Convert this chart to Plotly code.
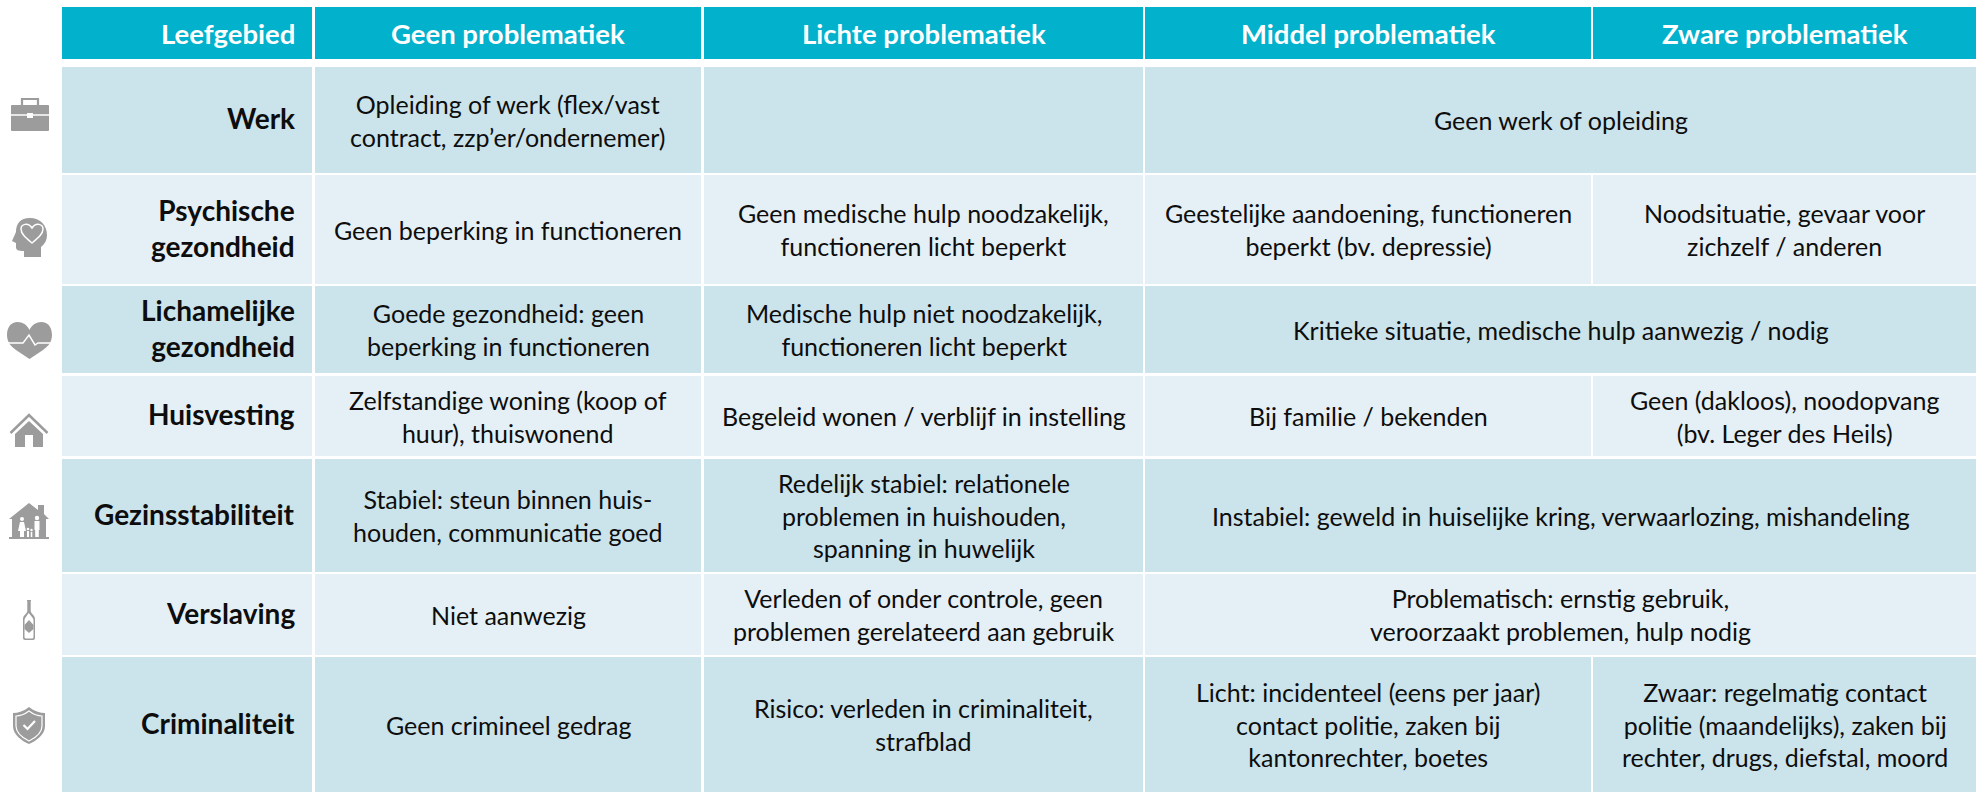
import plotly.graph_objects as go

# ---------- data ----------
headers = ["Leefgebied", "Geen problematiek", "Lichte problematiek", "Middel problematiek", "Zware problematiek"]
life_areas = ["Werk", "Psychische<br>gezondheid", "Lichamelijke<br>gezondheid", "Huisvesting",
              "Gezinsstabiliteit", "Verslaving", "Criminaliteit"]
geen = ["Opleiding of werk (flex/vast<br>contract, zzp’er/ondernemer)",
        "Geen beperking in functioneren",
        "Goede gezondheid: geen<br>beperking in functioneren",
        "Zelfstandige woning (koop of<br>huur), thuiswonend",
        "Stabiel: steun binnen huis-<br>houden, communicatie goed",
        "Niet aanwezig",
        "Geen crimineel gedrag"]
lichte = ["",
          "Geen medische hulp noodzakelijk,<br>functioneren licht beperkt",
          "Medische hulp niet noodzakelijk,<br>functioneren licht beperkt",
          "Begeleid wonen / verblijf in instelling",
          "Redelijk stabiel: relationele<br>problemen in huishouden,<br>spanning in huwelijk",
          "Verleden of onder controle, geen<br>problemen gerelateerd aan gebruik",
          "Risico: verleden in criminaliteit,<br>strafblad"]
# None in "zware" means the "middel" cell spans both columns
middel = ["Geen werk of opleiding",
          "Geestelijke aandoening, functioneren<br>beperkt (bv. depressie)",
          "Kritieke situatie, medische hulp aanwezig / nodig",
          "Bij familie / bekenden",
          "Instabiel: geweld in huiselijke kring, verwaarlozing, mishandeling",
          "Problematisch: ernstig gebruik,<br>veroorzaakt problemen, hulp nodig",
          "Licht: incidenteel (eens per jaar)<br>contact politie, zaken bij<br>kantonrechter, boetes"]
zware = [None,
         "Noodsituatie, gevaar voor<br>zichzelf / anderen",
         None,
         "Geen (dakloos), noodopvang<br>(bv. Leger des Heils)",
         None,
         None,
         "Zwaar: regelmatig contact<br>politie (maandelijks), zaken bij<br>rechter, drugs, diefstal, moord"]

# ---------- layout geometry (pixels of the page) ----------
col_l = [62, 315, 704, 1145, 1593]
col_r = [312, 701, 1143, 1591, 1976]
head_y = (7, 59)
row_t = [67, 175, 286, 376, 459, 574, 657]
row_b = [173, 284, 373, 456, 572, 655, 792]

HEAD = "#02B1CC"
DARK = "#CBE3EB"
LIGHT = "#E5F0F6"
INK = "#0D0D0D"
GRAY = "#9C9C9C"
FONT = "Lato"
BODY = 25
BOLD = 28
HEAD_SIZE = 27.5
LABEL_X = 296.5

fig = go.Figure()


def add_cells(cells, color):
    fig.add_trace(go.Bar(
        orientation="h",
        y=[(t + b) / 2 for _, _, t, b in cells],
        width=[b - t for _, _, t, b in cells],
        base=[l for l, _, _, _ in cells],
        x=[r - l for l, r, _, _ in cells],
        marker=dict(color=color, line=dict(width=0)),
        hoverinfo="skip", showlegend=False))


def label(x, y, text, size=BODY, color=INK, bold=False, xanchor="center"):
    fig.add_annotation(x=x, y=y, xref="x", yref="y", text=f"<b>{text}</b>" if bold else text,
                       showarrow=False, xanchor=xanchor, yanchor="middle", align=xanchor,
                       font=dict(family=FONT, size=size, color=color))


add_cells([(col_l[i], col_r[i], *head_y) for i in range(5)], HEAD)
for i, h in enumerate(headers):
    cx = LABEL_X if i == 0 else (col_l[i] + col_r[i]) / 2
    label(cx, 33.5, h, HEAD_SIZE, "#FFFFFF", True, "right" if i == 0 else "center")

for color, rows in ((DARK, range(0, 7, 2)), (LIGHT, range(1, 7, 2))):
    cells = []
    for r in rows:
        t, b = row_t[r], row_b[r]
        cells += [(col_l[i], col_r[i], t, b) for i in range(3)]
        cells.append((col_l[3], col_r[3] if zware[r] is not None else col_r[4], t, b))
        if zware[r] is not None:
            cells.append((col_l[4], col_r[4], t, b))
    add_cells(cells, color)

for r in range(7):
    cy = (row_t[r] + row_b[r]) / 2
    label(LABEL_X, cy - 2, life_areas[r], BOLD, INK, True, "right")
    label((col_l[1] + col_r[1]) / 2, cy, geen[r])
    label((col_l[2] + col_r[2]) / 2, cy, lichte[r])
    if zware[r] is None:
        label((col_l[3] + col_r[4]) / 2, cy, middel[r])
    else:
        label((col_l[3] + col_r[3]) / 2, cy, middel[r])
        label((col_l[4] + col_r[4]) / 2, cy, zware[r])


# ---------- icons ----------
def fill(path, color=GRAY):
    fig.add_shape(type="path", path=path, fillcolor=color, line=dict(width=0), layer="above")


def stroke(path, color="#FFFFFF", w=1.5):
    fig.add_shape(type="path", path=path, line=dict(color=color, width=w), layer="above")


def dot(x, y, rad, color="#FFFFFF"):
    fig.add_shape(type="circle", x0=x - rad, x1=x + rad, y0=y - rad, y1=y + rad,
                  fillcolor=color, line=dict(width=0), layer="above")


# briefcase
stroke("M22 105 V99 H38 V105", GRAY, 2.2)
fill("M12 105 H48 Q49 105 49 106 V130 Q49 131 48 131 H12 Q11 131 11 130 V106 Q11 105 12 105 Z")
stroke("M11 115 H49", "#FFFFFF", 1.3)
fill("M27 113 H33 V118 H27 Z", "#FFFFFF")
# head with heart
fill("M47 235 C47 225 40 218 30 218 C20 218 16 224 16 232 L12 241 L16 243 V247 "
     "C16 250 18 251 24 251 V257 H41 V247 C45 244 47 240 47 235 Z")
stroke("M32 243 C26 238 21 234 21 229 C21 224 28 222 32 228 C36 222 43 224 43 229 C43 234 38 238 32 243 Z",
       "#FFFFFF", 1.5)
# heart with pulse
fill("M29.5 330 C25 319 7 318 7 335 C7 343 12 347 16 350 L29.5 359 L43 350 C47 347 52 343 52 335 "
     "C52 318 34 319 29.5 330 Z")
stroke("M7 343 H23 L29 335 L35 345 L38 343 H52", "#FFFFFF", 1.5)
# house
stroke("M10.5 433 L29 415 L47.5 433", GRAY, 2.5)
fill("M15 434 L29 421 L43 434 V447 H33 V435 H25 V447 H15 Z")
# family house
fill("M9 519 L29 503 L38 510 V505 H44 V514 L49 519 H46 V537 H49 V539 H9 V537 H12 V519 Z")
dot(22, 519, 2.0)
fill("M20 522 H24 L26 531 H24 V537 H20 V531 H18 Z", "#FFFFFF")
dot(37, 518, 2.2)
fill("M34.5 521 H39.5 V530 H38.8 V537 H35.2 V530 H34.5 Z", "#FFFFFF")
dot(28, 529, 1.3)
fill("M27 531 H29 V537 H27 Z", "#FFFFFF")
dot(31.5, 530, 1.2)
fill("M30.7 532 H32.3 V537 H30.7 Z", "#FFFFFF")
# bottle
fill("M27 600 H31 V601 H30.7 V611 C31 614 35 615 35 619 V638 Q35 640 33 640 H25 Q23 640 23 638 V619 "
     "C23 615 27 614 27.3 611 V601 H27 Z")
fill("M24.5 620 C24.5 618 27 616 28.6 613 C31 616 33.5 618 33.5 620 V637 Q33.5 638.5 32 638.5 H26 "
     "Q24.5 638.5 24.5 637 Z", "#FFFFFF")
fill("M24.5 625 L29 620 L33.5 625 V629 L29 633 L24.5 629 Z")
# shield
fill("M29 707 C24 711 18 713 13 713 V726 C13 735 22 741 29 744 C36 741 45 735 45 726 V713 C40 713 34 711 29 707 Z")
stroke("M29 711 C25 714 20 716 16 716 V726 C16 733 23 738 29 741 C35 738 42 733 42 726 V716 C38 716 33 714 29 711 Z",
       "#FFFFFF", 1.2)
stroke("M23.5 725 L27.5 729 L35 721", "#FFFFFF", 2.2)

fig.update_layout(
    width=1976, height=792, margin=dict(l=0, r=0, t=0, b=0),
    paper_bgcolor="#FFFFFF", plot_bgcolor="#FFFFFF",
    barmode="overlay", bargap=0,
    xaxis=dict(range=[0, 1976], visible=False, fixedrange=True),
    yaxis=dict(range=[792, 0], visible=False, fixedrange=True),
)
fig.write_html("out.html", config={"displayModeBar": False, "responsive": False},
               default_width="1976px", default_height="792px",
               post_script="document.body.style.margin='0';document.body.style.overflow='hidden';")
